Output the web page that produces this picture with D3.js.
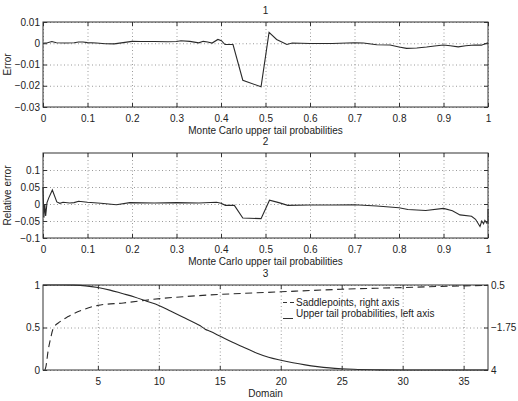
<!DOCTYPE html>
<html>
<head>
<meta charset="utf-8">
<script src="https://cdn.jsdelivr.net/npm/d3@7/dist/d3.min.js"></script>
<style>
  body { margin: 0; background: #fff; }
  svg { font-family: "Liberation Sans", Arial, Helvetica, sans-serif; }
  .grid line { stroke: #9a9a9a; stroke-dasharray: 1,2.5; }
  .grid path { display: none; }
  .ax path { stroke: none; }
  .ax line { stroke: #333; }
  .ax text { fill: #222; font-size: 10px; }
</style>
</head>
<body>
<svg id="chart" width="518" height="401"></svg>
<script>
// panel 1 : error vs Monte Carlo upper tail probability
var errP = [0, 0.01, 0.02, 0.03, 0.05, 0.07, 0.08, 0.09, 0.1, 0.12, 0.14, 0.16, 0.18, 0.2, 0.22, 0.25, 0.28, 0.3, 0.31, 0.33, 0.35, 0.36, 0.37, 0.38, 0.393, 0.401, 0.409, 0.427, 0.449, 0.49, 0.508, 0.525, 0.548, 0.56, 0.6, 0.65, 0.7, 0.72, 0.75, 0.78, 0.8, 0.817, 0.84, 0.862, 0.88, 0.9, 0.915, 0.933, 0.95, 0.97, 0.985, 1.0];
var errVal = [0, 0.0002, 0.0008, 0.0002, 0.0001, 0.0002, 0.0006, 0.0006, 0.0003, 0.0001, -0.0002, -0.0003, 0.0003, 0.0009, 0.0008, 0.0008, 0.0007, 0.0008, 0.0012, 0.0009, 0.0002, 0.0009, 0.0006, 0.0001, 0.0018, 0.0012, -0.0006, -0.0006, -0.0174, -0.0205, 0.0051, 0.0018, -0.0006, 0.0001, -0.0001, -0.0001, 0.0002, 0.0001, -0.0007, -0.0008, -0.0018, -0.0024, -0.0022, -0.0018, -0.0013, -0.0008, -0.0012, -0.0017, -0.0012, -0.0008, -0.0009, 0.0002];

// panel 2 : relative error
var relP = [0, 0.002, 0.004, 0.006, 0.009, 0.013, 0.021, 0.031, 0.038, 0.045, 0.06, 0.07, 0.08, 0.1, 0.13, 0.165, 0.195, 0.25, 0.3, 0.35, 0.39, 0.4, 0.41, 0.43, 0.449, 0.49, 0.509, 0.53, 0.55, 0.6, 0.65, 0.7, 0.75, 0.8, 0.82, 0.86, 0.9, 0.92, 0.937, 0.963, 0.972, 0.982, 0.986, 0.99, 0.993, 0.997, 1.0, 1.0];
var relVal = [0.05, -0.04, 0.0, -0.035, 0.004, 0.018, 0.041, 0.006, 0.002, 0.005, 0.003, 0.004, 0.008, 0.005, 0.002, -0.002, 0.004, 0.003, 0.004, 0.003, 0.005, 0.002, -0.004, -0.004, -0.041, -0.043, 0.011, 0.004, -0.004, -0.003, -0.003, -0.002, -0.006, -0.011, -0.016, -0.019, -0.013, -0.02, -0.032, -0.036, -0.045, -0.066, -0.05, -0.058, -0.048, -0.056, -0.055, -0.015];

// panel 3 : upper tail probabilities (left axis) and saddlepoints (right axis)
var tailX = [0.5, 2, 3, 4, 5, 6, 7, 8, 9, 10, 11, 12, 13, 13.4, 13.8, 14.2, 15, 16, 17, 18, 19, 20, 21, 22, 23, 24, 25, 26, 28, 30, 37];
var tailProb = [1, 1, 0.998, 0.99, 0.97, 0.94, 0.9, 0.86, 0.81, 0.76, 0.69, 0.62, 0.55, 0.52, 0.48, 0.455, 0.4, 0.33, 0.265, 0.2, 0.15, 0.115, 0.085, 0.06, 0.04, 0.025, 0.015, 0.008, 0.002, 0, 0];
var saddleX = [0.66, 0.74, 0.93, 1.1, 1.34, 1.9, 2.57, 3.8, 5.0, 7.1, 10.1, 13.1, 20, 25, 30, 35, 37];
var saddle = [-4, -3.82, -2.94, -2.4, -1.8, -1.44, -1.17, -0.81, -0.58, -0.45, -0.22, -0.07, 0.14, 0.275, 0.365, 0.455, 0.48];

var probTicks = [0, 0.1, 0.2, 0.3, 0.4, 0.5, 0.6, 0.7, 0.8, 0.9, 1];
var errTicks = [-0.03, -0.02, -0.01, 0, 0.01];
var relTicks = [-0.1, -0.05, 0, 0.05, 0.1];
var domainTicks = [5, 10, 15, 20, 25, 30, 35];
var leftTicks = [0, 0.5, 1];
var rightTicks = [-4, -1.75, 0.5];
var rightLabels = ["4", "\u22121.75", "0.5"];

var svg = d3.select("#chart");
var left = 43, right = 488;
var fmt = function (d) { return d3.format("")(d).replace("-", "\u2212"); };

function drawPanel(cfg) {
    var x = d3.scaleLinear().domain(cfg.xDomain).range([left, right]);
    var y = d3.scaleLinear().domain(cfg.yDomain).range([cfg.bottom, cfg.top]);
    var h = cfg.bottom - cfg.top, w = right - left;
    var g = svg.append("g");

    // dotted grid
    g.append("g").attr("class", "grid")
        .attr("transform", "translate(0," + cfg.bottom + ")")
        .call(d3.axisBottom(x).tickValues(cfg.xTicks).tickSize(-h).tickFormat(""));
    g.append("g").attr("class", "grid")
        .attr("transform", "translate(" + left + ",0)")
        .call(d3.axisLeft(y).tickValues(cfg.yTicks).tickSize(-w).tickFormat(""));

    // data lines
    cfg.series.forEach(function (s) {
        var yy = s.y || y;
        g.append("path")
            .datum(s.xs.map(function (v, i) { return [v, s.ys[i]]; }))
            .attr("fill", "none")
            .attr("stroke", "#2a2a2a")
            .attr("stroke-width", 1.1)
            .attr("stroke-dasharray", s.dash || null)
            .attr("d", d3.line().curve(s.curve || d3.curveLinear)
                .x(function (d) { return x(d[0]); })
                .y(function (d) { return yy(d[1]); }));
    });

    // box + inward ticks
    g.append("g").attr("class", "ax")
        .attr("transform", "translate(0," + cfg.bottom + ")")
        .call(d3.axisBottom(x).tickValues(cfg.xTicks).tickSize(-4).tickPadding(8).tickFormat(fmt));
    g.append("g").attr("class", "ax")
        .attr("transform", "translate(0," + cfg.top + ")")
        .call(d3.axisTop(x).tickValues(cfg.xTicks).tickSize(-4).tickFormat(""));
    g.append("g").attr("class", "ax")
        .attr("transform", "translate(" + left + ",0)")
        .call(d3.axisLeft(y).tickValues(cfg.yTicks).tickSize(-4).tickPadding(3).tickFormat(fmt));
    if (cfg.y2) {
        g.append("g").attr("class", "ax")
            .attr("transform", "translate(" + right + ",0)")
            .call(d3.axisRight(cfg.y2).tickValues(rightTicks).tickSize(-4).tickPadding(3)
                .tickFormat(function (d, i) { return rightLabels[i]; }));
    } else {
        g.append("g").attr("class", "ax")
            .attr("transform", "translate(" + right + ",0)")
            .call(d3.axisRight(y).tickValues(cfg.yTicks).tickSize(-4).tickFormat(""));
    }
    g.append("rect")
        .attr("x", left).attr("y", cfg.top)
        .attr("width", w).attr("height", h)
        .attr("fill", "none").attr("stroke", "#333").attr("stroke-width", 1);

    // texts
    g.append("text").attr("x", (left + right) / 2).attr("y", cfg.top - 8.5)
        .attr("text-anchor", "middle").attr("font-size", "10px").attr("fill", "#222")
        .text(cfg.title);
    g.append("text").attr("x", (left + right) / 2).attr("y", cfg.bottom + 27)
        .attr("text-anchor", "middle").attr("font-size", "10px").attr("fill", "#222")
        .text(cfg.xLabel);
    if (cfg.yLabel) {
        g.append("text")
            .attr("transform", "translate(10.5," + (cfg.top + cfg.bottom) / 2 + ") rotate(-90)")
            .attr("text-anchor", "middle").attr("font-size", "10px").attr("fill", "#222")
            .text(cfg.yLabel);
    }
    return g;
}

drawPanel({
    top: 22, bottom: 107, xDomain: [0, 1], yDomain: [-0.03, 0.01],
    xTicks: probTicks, yTicks: errTicks, title: "1",
    xLabel: "Monte Carlo upper tail probabilities", yLabel: "Error",
    series: [{xs: errP, ys: errVal}]
});

drawPanel({
    top: 153, bottom: 238, xDomain: [0, 1], yDomain: [-0.1, 0.15],
    xTicks: probTicks, yTicks: relTicks, title: "2",
    xLabel: "Monte Carlo upper tail probabilities", yLabel: "Relative error",
    series: [{xs: relP, ys: relVal}]
});

var y2 = d3.scaleLinear().domain([-4, 0.5]).range([370, 285]);
var g3 = drawPanel({
    top: 285, bottom: 370, xDomain: [0.5, 37], yDomain: [0, 1],
    xTicks: domainTicks, yTicks: leftTicks, title: "3",
    xLabel: "Domain", y2: y2,
    series: [
        {xs: tailX, ys: tailProb, curve: d3.curveMonotoneX},
        {xs: saddleX, ys: saddle, y: y2, dash: "7,4.5", curve: d3.curveMonotoneX}
    ]
});

// legend
var legend = g3.append("g").attr("font-size", "10px").attr("fill", "#222");
legend.append("line").attr("x1", 283).attr("x2", 295).attr("y1", 302.5).attr("y2", 302.5)
    .attr("stroke", "#333").attr("stroke-dasharray", "4,3");
legend.append("text").attr("x", 296).attr("y", 306).text("Saddlepoints, right axis");
legend.append("line").attr("x1", 283).attr("x2", 293).attr("y1", 318.5).attr("y2", 318.5)
    .attr("stroke", "#333");
legend.append("text").attr("x", 296).attr("y", 317).text("Upper tail probabilities, left axis");
</script>
</body>
</html>
